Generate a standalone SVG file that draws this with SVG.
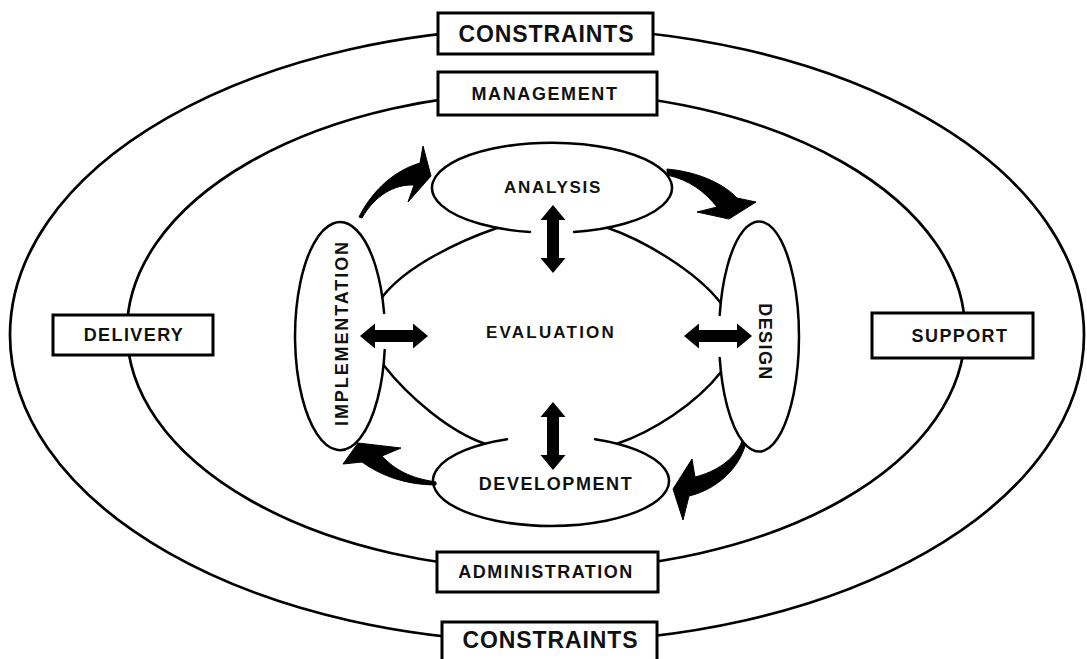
<svg xmlns="http://www.w3.org/2000/svg" width="1087" height="659" viewBox="0 0 1087 659">
<style>
.ring{fill:none;stroke:#000;stroke-width:2.7}
.box{fill:#fff;stroke:#000;stroke-width:3}
.shape{fill:none;stroke:#000;stroke-width:2.5;stroke-linecap:round}
.lbl{font-family:"Liberation Sans",Arial,sans-serif;font-weight:bold;fill:#111;text-anchor:middle}
.arw{fill:#000;stroke:#000;stroke-width:1;stroke-linejoin:miter}
</style>
<defs>
<path id="dbl" d="M -34 0 L -19 -12.5 L -19 -6 L 19 -6 L 19 -12.5 L 34 0 L 19 12.5 L 19 6 L -19 6 L -19 12.5 Z"/>
</defs>
<rect width="1087" height="659" fill="#fff"/>

<g id="rings">
<ellipse class="ring" cx="547" cy="335" rx="537" ry="307"/>
<ellipse class="ring" cx="546" cy="331" rx="419" ry="239"/>
</g>

<g id="evaluation">
<path class="shape" d="M 382.3 297 C 407 265 462 240 497 228"/>
<path class="shape" d="M 608 228 C 643 240 696 271 720.7 303"/>
<path class="shape" d="M 721 372 C 696 404 652 432 617 443.7"/>
<path class="shape" d="M 485 443.7 C 450 432 408.5 397 383.5 365"/>
<text class="lbl" x="551" y="338" font-size="17" letter-spacing="2.2">EVALUATION</text>
</g>

<g id="analysis">
<path class="shape" d="M 530 232 A 120 45 0 1 1 574 232"/>
<text class="lbl" x="553" y="193" font-size="17" letter-spacing="1.7">ANALYSIS</text>
</g>

<g id="development">
<path class="shape" d="M 507 439.2 A 118 45 0 1 0 595 439.2"/>
<text class="lbl" x="556" y="490" font-size="18" letter-spacing="1.6">DEVELOPMENT</text>
</g>

<g id="implementation">
<path class="shape" d="M 384.1 313 A 45 114 0 1 0 384.7 350"/>
<text class="lbl" transform="translate(348,333) rotate(-90)" font-size="18" letter-spacing="1.9">IMPLEMENTATION</text>
</g>

<g id="design">
<path class="shape" d="M 719.7 315 A 40 115 0 1 1 719.7 358"/>
<text class="lbl" transform="translate(758.5,342) rotate(90)" font-size="18" letter-spacing="1.4">DESIGN</text>
</g>

<g id="constraints-top">
<rect class="box" x="438" y="13" width="215" height="41"/>
<text class="lbl" x="546.5" y="42" font-size="23" letter-spacing="0.9">CONSTRAINTS</text>
</g>

<g id="management">
<rect class="box" x="438" y="72" width="219" height="43"/>
<text class="lbl" x="545" y="100" font-size="18" letter-spacing="1.6">MANAGEMENT</text>
</g>

<g id="administration">
<rect class="box" x="437" y="552" width="221" height="40"/>
<text class="lbl" x="546" y="578" font-size="18" letter-spacing="1.5">ADMINISTRATION</text>
</g>

<g id="constraints-bottom">
<rect class="box" x="442" y="622" width="215" height="42"/>
<text class="lbl" x="550.5" y="648" font-size="23" letter-spacing="0.9">CONSTRAINTS</text>
</g>

<g id="delivery">
<rect class="box" x="53" y="315" width="160" height="40"/>
<text class="lbl" x="134" y="341" font-size="18" letter-spacing="1.4">DELIVERY</text>
</g>

<g id="support">
<rect class="box" x="872" y="313" width="161" height="45"/>
<text class="lbl" x="960" y="342" font-size="18" letter-spacing="1.4">SUPPORT</text>
</g>

<g id="connectors">
<use href="#dbl" transform="translate(394,336)"/>
<use href="#dbl" transform="translate(718,336)"/>
<use href="#dbl" transform="translate(553,239) rotate(90)"/>
<use href="#dbl" transform="translate(553,436) rotate(90)"/>
<path class="arw" d="M 359 217 C 370 195 390 172 420 163 L 423 146 L 431 176 L 408 202 L 414 185 C 395 184 375 195 362 218 Z"/>
<path class="arw" d="M 667 169 C 700 172 725 185 737 198 L 756 202 L 729 219 L 697 212 L 717 207 C 705 192 690 180 667 175 Z"/>
<path class="arw" d="M 742 441 C 735 460 715 472 695 477 L 692 459 L 673 489 L 683 520 L 689 496 C 715 490 738 470 745 446 Z"/>
<path class="arw" d="M 436 482 C 410 478 395 470 382 456 L 401 448 L 358 443 L 343 464 L 362 462 C 380 475 405 485 436 485 Z"/>
</g>
</svg>
